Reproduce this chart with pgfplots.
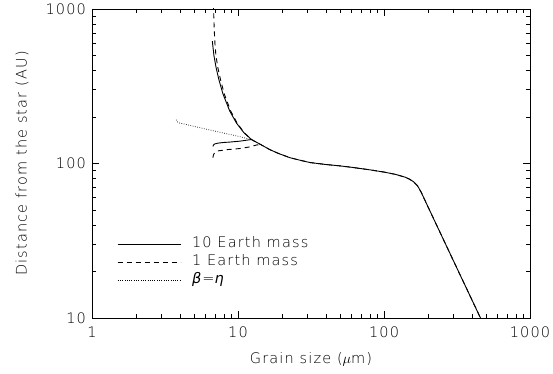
\documentclass[border=0pt]{standalone}
\usepackage{fontspec}
\IfFontExistsTF{DejaVu Sans ExtraLight}
  {\setmainfont{DejaVu Sans ExtraLight}[LetterSpace=8]}
  {\setmainfont{DejaVu Sans}[LetterSpace=8]}
\usepackage{pgfplots}
\pgfplotsset{compat=1.18}
\usepackage{pgfplotstable}

% 10 Earth mass: upper branch followed by the common curve
\pgfplotstableread{
a r
6.67 620
6.84 501
7.08 417
7.41 347
7.89 282
8.77 219
9.75 183
10.96 158.5
12.36 143
14.5 131.7
16.5 123
19 116
22.7 109
26.6 105
31 101.5
40 98.5
50 96.5
60 94.5
80 91
100 88
120 85
140 81.5
150 79
160 76
170 71.5
180 65
200 52.5
300 23.3
470 9.5
}\solidmain

\pgfplotstableread{
a r
6.73 129
6.80 132
6.95 134
7.3 135.5
8 136.8
8.77 137.6
10.3 139.5
12.36 143
}\solidlow

% 1 Earth mass
\pgfplotstableread{
a r
6.76 1400
6.80 1000
6.87 750
6.95 600
7.06 500
7.28 417
7.6 347
8.05 282
8.9 219
9.85 183
11.0 158.5
12.36 143
14.5 131.7
16.5 123
19 116
22.7 109
26.6 105
31 101.5
40 98.5
50 96.5
60 94.5
80 91
100 88
120 85
140 81.5
150 79
160 76
170 71.5
180 65
200 52.5
300 23.3
470 9.5
}\dashmain

\pgfplotstableread{
a r
6.73 109
6.78 113
6.9 117
7.1 119.5
7.36 120.8
8.5 123
10.3 125
12 128
13.5 132
14.5 131.7
}\dashlow

% beta = eta
\pgfplotstableread{
a r
3.77 192
3.85 186
3.97 183
5 174
6.39 165
8 157.4
10 150
12.36 143
}\betaeta

\begin{document}
\fontsize{14.5bp}{17bp}\selectfont
\begin{tikzpicture}
\useasboundingbox (0,0) rectangle (553bp,374bp);
\begin{axis}[
  at={(92bp,56bp)}, anchor=south west,
  scale only axis, width=438bp, height=309bp,
  xmode=log, ymode=log,
  xmin=1, xmax=1000, ymin=10, ymax=1000,
  xtick={1,10,100,1000}, xticklabels={1,10,100,1000},
  ytick={10,100,1000}, yticklabels={10,100,1000},
  /pgf/number format/assume math mode=true,
  tick align=inside,
  major tick length=7bp, minor tick length=4bp,
  axis line style={line width=0.8bp},
  every tick/.style={line width=0.6bp, black},
  xticklabel style={yshift=-4bp},
  yticklabel style={xshift=-1bp},
  xlabel={Grain size ($\mu$m)},
  ylabel={Distance from the star (AU)},
  xlabel style={at={(0.5,0)}, anchor=center, yshift=-41bp},
  ylabel style={at={(0,0.5)}, anchor=center, yshift=70bp},
  clip=true,
  legend cell align=left,
  legend image code/.code={\draw[#1] (0bp,0bp) -- (63bp,0bp);},
  legend style={
    at={(0.057,0.265)}, anchor=north west,
    draw=none, fill=none, inner sep=0pt,
    column sep=10bp, row sep=2bp,
    nodes={inner sep=1bp, text height=10.5bp, text depth=3.5bp, anchor=west},
    font=\fontsize{14.5bp}{17bp}\selectfont},
  every axis plot/.append style={black, line width=0.9bp},
]
\addplot[solid] table {\solidmain};
\addlegendentry{10 Earth mass}
\addplot[dash pattern=on 5bp off 4bp] table {\dashmain};
\addlegendentry{1 Earth mass}
\addplot[line width=0.7bp, dash pattern=on 0.7bp off 1.6bp] table {\betaeta};
\addlegendentry{\textit{β}=\textit{η}}
\addplot[solid, forget plot] table {\solidlow};
\addplot[dash pattern=on 5bp off 4bp, forget plot] table {\dashlow};
\end{axis}
\end{tikzpicture}
\end{document}
